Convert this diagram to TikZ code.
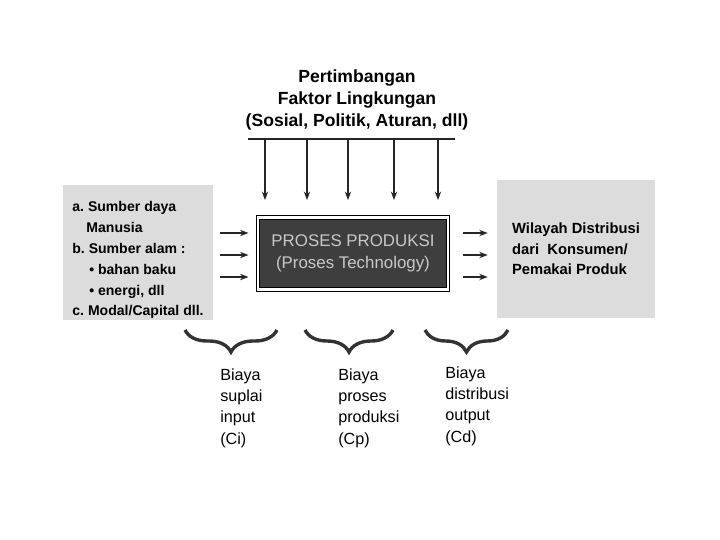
\documentclass[tikz,border=0pt]{standalone}
\usepackage{fontspec}
\setmainfont{Liberation Sans}
\definecolor{gelap}{HTML}{3E3E3E}
\definecolor{bintik}{HTML}{DCDCDC}
\definecolor{pucat}{HTML}{C8C8C8}
\usetikzlibrary{calc, positioning, arrows.meta, decorations.pathreplacing}

\begin{document}
\begin{tikzpicture}[
  panah/.style={-{Stealth[length=6pt,width=4.5pt]}, line width=1.1pt, black!85},
  kotakabu/.style={fill=bintik, draw=none, align=left,
                   font=\fontsize{10.5}{14.5}\selectfont\bfseries},
  proses/.style={fill=gelap, draw=black, line width=0.7pt, double=white,
                 double distance=1.6pt, minimum width=4.75cm, minimum height=1.8cm,
                 align=center, text=pucat, font=\fontsize{12}{16}\selectfont},
  kurung/.style={decorate, decoration={brace, mirror, amplitude=0.55cm},
                 line width=2.4pt, black!80},
  biaya/.style={anchor=north west, inner sep=0pt, align=left,
                font=\fontsize{11.5}{15.2}\selectfont},
]
\useasboundingbox (0,0) rectangle (18,-13.5);

% faktor lingkungan
\node[align=center, font=\fontsize{12.5}{15.5}\selectfont\bfseries] (judul) at (8.925,-2.5)
  {Pertimbangan\\Faktor Lingkungan\\(Sosial, Politik, Aturan, dll)};
\coordinate (garisA) at (6.2,-3.475);
\coordinate (garisB) at (11.375,-3.475);
\draw[line width=1.3pt, black!85] (garisA) -- (garisB);
\foreach \x [count=\i] in {6.625,7.675,8.7,9.85,10.95} {
  \coordinate (atas\i) at (\x,-3.475);
  \coordinate (bawah\i) at (\x,-5.0);
  \draw[panah, line width=0.8pt] (atas\i) -- (bawah\i);
}

% input, proses, output
\node[kotakabu, minimum width=3.75cm, minimum height=3.375cm, inner ysep=0pt,
      font=\fontsize{10}{14.9}\selectfont\bfseries] (kiri) at (3.45,-6.31)
  {\rule{0pt}{18pt}a.\ Sumber daya\\\hspace*{10pt}Manusia\\b.\ Sumber alam :\\
   \hspace*{12pt}\textbullet\ bahan baku\\\hspace*{12pt}\textbullet\ energi, dll\\
   c.\ Modal/Capital dll.};
\node[proses] (pros) at (8.825,-6.3375) {PROSES PRODUKSI\\(Proses Technology)};
\node[kotakabu, minimum width=3.95cm, minimum height=3.45cm] (kanan) at (14.4,-6.225)
  {Wilayah Distribusi\\dari\ \ Konsumen/\\Pemakai Produk};

\foreach \y in {-5.825,-6.375,-6.925} {
  \draw[panah] ([xshift=0.175cm]kiri.east |- 0,\y) -- ([xshift=-0.225cm]pros.west |- 0,\y);
  \draw[panah] ([xshift=0.375cm]pros.east |- 0,\y) -- ([xshift=-0.225cm]kanan.west |- 0,\y);
}

% biaya
\coordinate (ci1) at (4.625,-8.25);  \coordinate (ci2) at (6.925,-8.25);
\coordinate (cp1) at (7.625,-8.25);  \coordinate (cp2) at (9.825,-8.25);
\coordinate (cd1) at (10.625,-8.25); \coordinate (cd2) at (12.7,-8.25);
\draw[kurung] (ci1) -- (ci2);
\draw[kurung] (cp1) -- (cp2);
\draw[kurung] (cd1) -- (cd2);

\node[biaya] (ci) at (5.5,-9.2) {Biaya\\suplai\\input\\(Ci)};
\node[biaya] (cp) at (8.45,-9.2) {Biaya\\proses\\produksi\\(Cp)};
\node[biaya] (cd) at (11.125,-9.15) {Biaya\\distribusi\\output\\(Cd)};
\end{tikzpicture}
\end{document}
